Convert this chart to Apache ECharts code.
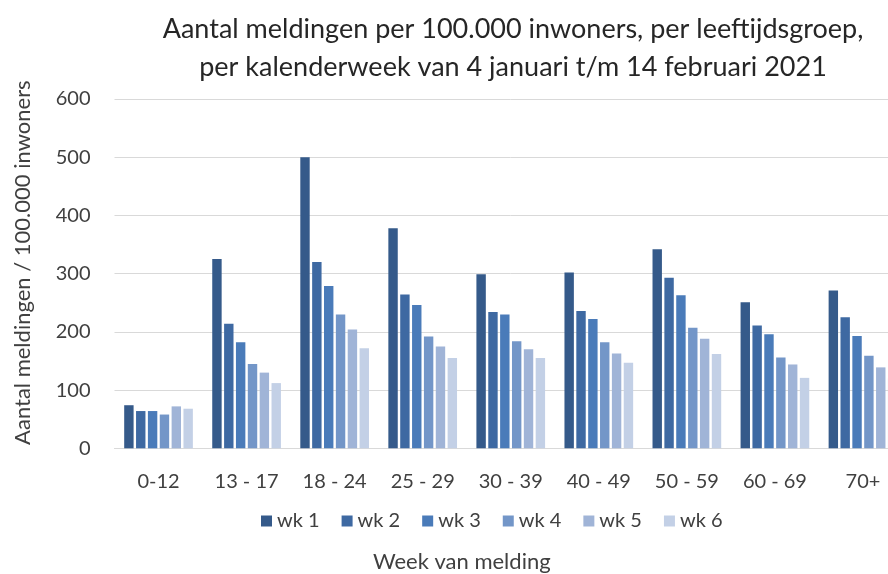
<!DOCTYPE html>
<html>
<head>
<meta charset="utf-8">
<script src="https://cdn.jsdelivr.net/npm/echarts@6/dist/echarts.min.js"></script>
<style>html,body{margin:0;padding:0;background:#fff;overflow:hidden;width:888px;height:574px}#c{width:907px;height:574px}</style>
</head>
<body>
<div id="c"></div>
<script>
const categories = ['0-12','13 - 17','18 - 24','25 - 29','30 - 39','40 - 49','50 - 59','60 - 69','70+'];
const seriesNames = ['wk 1','wk 2','wk 3','wk 4','wk 5','wk 6'];
const wk1 = [74, 325, 500, 378, 299, 302, 342, 251, 271];
const wk2 = [64, 214, 320, 264, 234, 236, 293, 211, 225];
const wk3 = [64, 182, 279, 246, 230, 222, 263, 196, 193];
const wk4 = [58, 145, 230, 192, 184, 182, 207, 156, 159];
const wk5 = [72, 130, 204, 175, 170, 163, 188, 144, 139];
const wk6 = [68, 112, 172, 155, 155, 147, 162, 121, 120];
const yTicks = [0, 100, 200, 300, 400, 500, 600];
const colors = ['#355a8a','#3e69a2','#4a7bb9','#7396c8','#a0b4d7','#c3d0e6'];
const allData = [wk1, wk2, wk3, wk4, wk5, wk6];
const FONT = 'Lato';

const chart = echarts.init(document.getElementById('c'));
chart.setOption({
  animation: false,
  textStyle: { fontFamily: FONT },
  title: {
    text: 'Aantal meldingen per 100.000 inwoners, per leeftijdsgroep,\nper kalenderweek van 4 januari t/m 14 februari 2021',
    left: 508, top: 5, textAlign: 'center',
    textStyle: { fontFamily: FONT, fontSize: 27, fontWeight: 'normal', color: '#262626', lineHeight: 38 }
  },
  legend: {
    data: seriesNames,
    top: 506, left: 256,
    itemWidth: 11, itemHeight: 11, itemGap: 22,
    icon: 'rect',
    textStyle: { fontFamily: FONT, fontSize: 20, color: '#404040' }
  },
  grid: { left: 114.5, right: 0, top: 99, bottom: 125.7, containLabel: false, outerBoundsMode: 'none' },
  xAxis: {
    type: 'category', data: categories,
    name: 'Week van melding', nameLocation: 'middle', nameGap: 103,
    nameTextStyle: { fontFamily: FONT, fontSize: 22, color: '#404040', padding: [0, 98, 0, 0] },
    axisLine: { lineStyle: { color: '#d9d9d9', width: 1 } },
    axisTick: { show: false },
    axisLabel: { fontFamily: FONT, fontSize: 20, color: '#404040', margin: 23, interval: 0 }
  },
  yAxis: {
    type: 'value', min: 0, max: 600, interval: 100,
    name: 'Aantal meldingen / 100.000 inwoners', nameLocation: 'middle', nameGap: 81, nameRotate: 90,
    nameTextStyle: { fontFamily: FONT, fontSize: 22, color: '#404040', padding: [0, 0, 0, 22] },
    axisLine: { show: false }, axisTick: { show: false },
    axisLabel: { fontFamily: FONT, fontSize: 20, color: '#404040', margin: 24,
      formatter: v => yTicks.includes(v) ? String(v) : '' },
    splitLine: { lineStyle: { color: '#d9d9d9', width: 1 } }
  },
  series: seriesNames.map((n, i) => ({
    name: n, type: 'bar', data: allData[i],
    barGap: '26%', barCategoryGap: '22%',
    itemStyle: { color: colors[i] }
  }))
});
</script>
</body>
</html>
